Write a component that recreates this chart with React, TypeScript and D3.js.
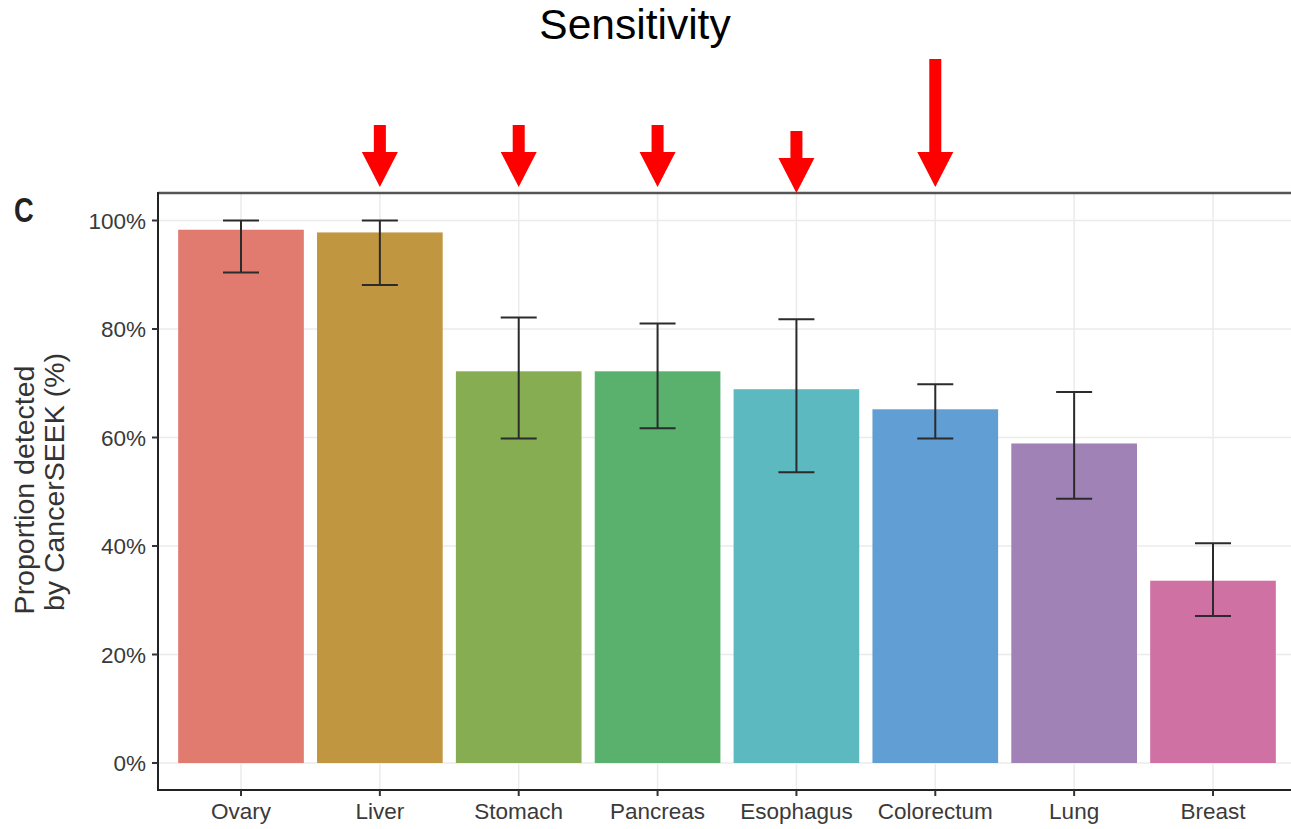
import React from "react";
import * as d3 from "d3";

const categories = ["Ovary", "Liver", "Stomach", "Pancreas", "Esophagus", "Colorectum", "Lung", "Breast"];
const sensitivity = [0.983, 0.978, 0.722, 0.722, 0.689, 0.652, 0.589, 0.336];
const ciLow = [0.904, 0.881, 0.598, 0.617, 0.536, 0.598, 0.487, 0.271];
const ciHigh = [1.0, 1.0, 0.821, 0.81, 0.818, 0.698, 0.684, 0.405];
const barColors = ["#E17B70", "#C09641", "#87AD52", "#5AB16E", "#5CB9BF", "#619ED4", "#A082B6", "#D071A4"];
const yTicks = [0, 0.2, 0.4, 0.6, 0.8, 1.0];
const arrowCategories = ["Liver", "Stomach", "Pancreas", "Esophagus", "Colorectum"];
const arrowTops = [125, 125, 125, 131, 59];
const arrowTips = [187, 187, 187, 193, 187];

const W = 1291;
const H = 829;
const panelLeft = 158;
const panelTop = 193;
const panelBottom = 790;

export default function App() {
  const x = d3.scalePoint<string>().domain(categories).range([241, 1213]);
  const step = x.step();
  const barW = step * 0.905;
  const y = d3.scaleLinear().domain([0, 1]).range([763, 220.5]);
  const fmt = d3.format(".0%");
  const capW = 36;
  const font = "'Liberation Sans', Arial, Helvetica, sans-serif";

  return (
    <svg width={W} height={H} style={{ position: "absolute", left: 0, top: 0, background: "#fff" }} fontFamily={font}>
      <text x={635} y={39} fontSize={42.5} textAnchor="middle" fill="#000">Sensitivity</text>

      {/* grid */}
      {yTicks.map((t) => (
        <line key={"gy" + t} x1={panelLeft} x2={W} y1={y(t)} y2={y(t)} stroke="#EBEBEB" strokeWidth={1.5} />
      ))}
      {categories.map((c) => (
        <line key={"gx" + c} x1={x(c)} x2={x(c)} y1={panelTop} y2={panelBottom} stroke="#EBEBEB" strokeWidth={1.5} />
      ))}

      {/* bars */}
      {categories.map((c, i) => (
        <rect key={"b" + c} x={(x(c) as number) - barW / 2} y={y(sensitivity[i])} width={barW}
          height={y(0) - y(sensitivity[i])} fill={barColors[i]} />
      ))}

      {/* error bars */}
      {categories.map((c, i) => {
        const cx = x(c) as number;
        return (
          <g key={"e" + c} stroke="#2b2b2b" strokeWidth={2}>
            <line x1={cx} x2={cx} y1={y(ciLow[i])} y2={y(ciHigh[i])} />
            <line x1={cx - capW / 2} x2={cx + capW / 2} y1={y(ciLow[i])} y2={y(ciLow[i])} />
            <line x1={cx - capW / 2} x2={cx + capW / 2} y1={y(ciHigh[i])} y2={y(ciHigh[i])} />
          </g>
        );
      })}

      {/* panel borders */}
      <line x1={panelLeft} x2={W} y1={panelTop} y2={panelTop} stroke="#555" strokeWidth={2.5} />
      <line x1={panelLeft} x2={panelLeft} y1={panelTop - 1} y2={panelBottom} stroke="#222" strokeWidth={2} />
      <line x1={panelLeft - 1} x2={W} y1={panelBottom} y2={panelBottom} stroke="#222" strokeWidth={2} />

      {/* y axis */}
      {yTicks.map((t) => (
        <g key={"yt" + t}>
          <line x1={panelLeft - 6} x2={panelLeft} y1={y(t)} y2={y(t)} stroke="#333" strokeWidth={2} />
          <text x={panelLeft - 12} y={y(t)} dy="0.36em" textAnchor="end" fontSize={22.5} fill="#3a3a3a">{fmt(t)}</text>
        </g>
      ))}

      {/* x axis */}
      {categories.map((c) => (
        <g key={"xt" + c}>
          <line x1={x(c)} x2={x(c)} y1={panelBottom} y2={panelBottom + 6} stroke="#333" strokeWidth={2} />
          <text x={x(c)} y={819} textAnchor="middle" fontSize={22.5} fill="#3a3a3a">{c}</text>
        </g>
      ))}

      {/* y axis title */}
      <text transform="translate(34,490) rotate(-90)" textAnchor="middle" fontSize={28.5} fill="#333">Proportion detected</text>
      <text transform="translate(64,482) rotate(-90)" textAnchor="middle" fontSize={28.5} fill="#333">by CancerSEEK (%)</text>

      {/* panel letter */}
      <text transform="translate(14,222) scale(0.78,1)" fontSize={35} fontWeight="bold" fill="#222">C</text>

      {/* red arrows */}
      {arrowCategories.map((c, i) => {
        const cx = x(c) as number;
        const top = arrowTops[i];
        const tip = arrowTips[i];
        const headH = 35;
        const shaftW = 12;
        const headW = 36;
        const path = d3.path();
        path.moveTo(cx - shaftW / 2, top);
        path.lineTo(cx + shaftW / 2, top);
        path.lineTo(cx + shaftW / 2, tip - headH);
        path.lineTo(cx + headW / 2, tip - headH);
        path.lineTo(cx, tip);
        path.lineTo(cx - headW / 2, tip - headH);
        path.lineTo(cx - shaftW / 2, tip - headH);
        path.closePath();
        return <path key={"a" + c} d={path.toString()} fill="#FF0000" />;
      })}
    </svg>
  );
}
